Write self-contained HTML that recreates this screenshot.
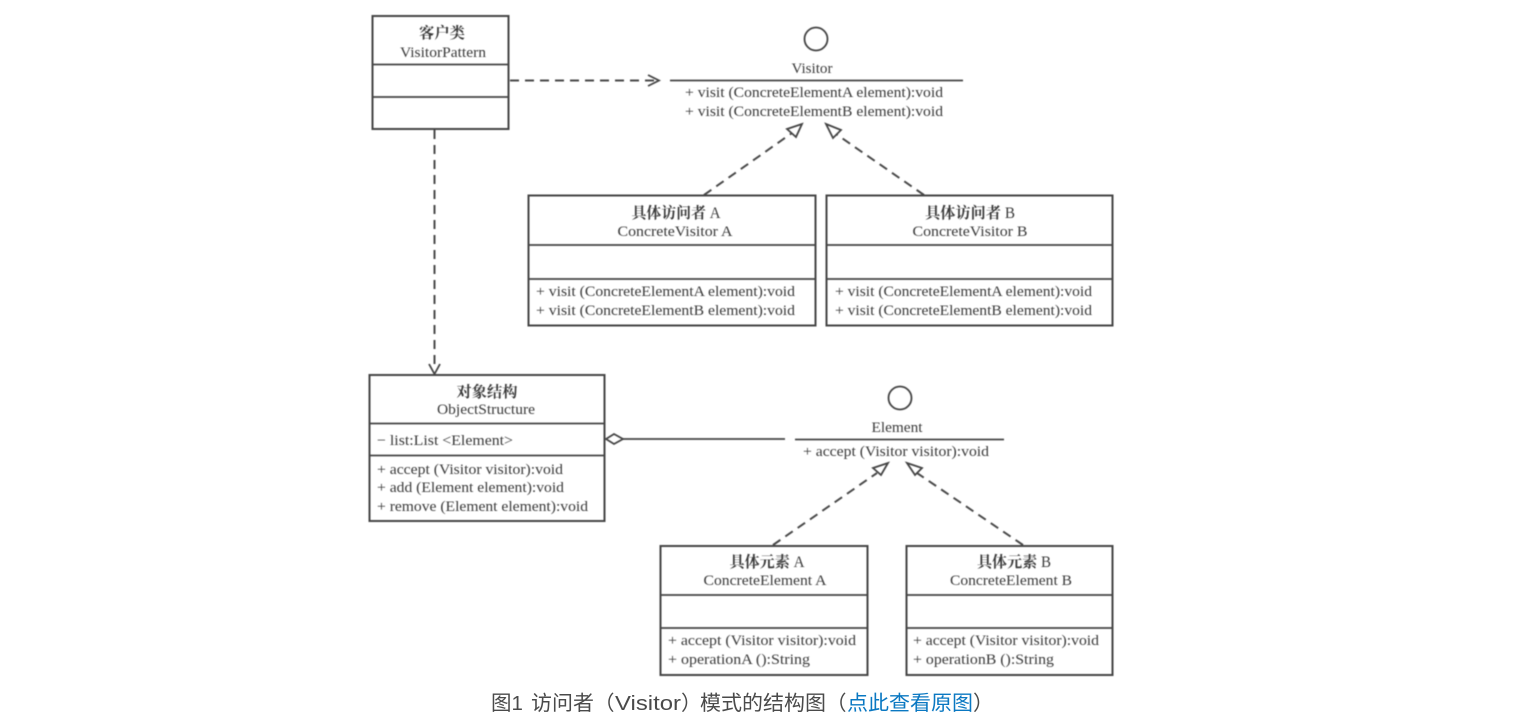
<!DOCTYPE html>
<html><head><meta charset="utf-8"><style>
html,body{margin:0;padding:0;background:#fff;width:1531px;height:724px;overflow:hidden}
svg{display:block}
.d text{font-family:"Liberation Serif","Noto Serif CJK SC",serif;font-size:15px;fill:#3a3a3a}
.d text.t{font-weight:bold;font-size:15.300px}
.d text.t tspan{font-weight:normal}
.c{text-anchor:middle}
.b{fill:none;stroke:#444;stroke-width:2}
.l{fill:none;stroke:#444;stroke-width:1.800}
.da{fill:none;stroke:#4a4a4a;stroke-width:2;stroke-dasharray:9 6}
.cap{font-family:"Liberation Sans","Noto Sans CJK SC",sans-serif;font-size:20.5px;fill:#4a4a4a}
</style></head><body>
<svg width="1531" height="724" viewBox="0 0 1531 724" xmlns="http://www.w3.org/2000/svg">
<defs><filter id="s" filterUnits="userSpaceOnUse" x="0" y="0" width="1531" height="680"><feGaussianBlur stdDeviation="0.45"/></filter></defs>
<g class="d" filter="url(#s)">
<!-- VisitorPattern -->
<rect class="b" x="372.500" y="16" width="136" height="113"/>
<path class="l" d="M372 64.500H509M372 97H509"/>
<text class="t c" x="442" y="38" textLength="46" lengthAdjust="spacingAndGlyphs">客户类</text>
<text class="c" x="443" y="57" textLength="86" lengthAdjust="spacingAndGlyphs">VisitorPattern</text>
<!-- dependency to Visitor -->
<path class="da" d="M510 80.500H656"/>
<path class="l" d="M648 75L659 80.500L648 86"/>
<path class="da" d="M434.500 130V370"/>
<path class="l" d="M429 364L434.500 374L440 364"/>
<!-- Visitor interface -->
<circle class="l" cx="816" cy="39" r="11.500"/>
<text class="c" x="812" y="73" textLength="41" lengthAdjust="spacingAndGlyphs">Visitor</text>
<path class="l" d="M670 80.500H963"/>
<text x="685" y="97" textLength="258" lengthAdjust="spacingAndGlyphs">+ visit (ConcreteElementA element):void</text>
<text x="685" y="116" textLength="258" lengthAdjust="spacingAndGlyphs">+ visit (ConcreteElementB element):void</text>
<!-- realization arrows -->
<path class="da" d="M704 195L792 133"/>
<path class="l" d="M802 124L787 129L796 137Z"/>
<path class="da" d="M924 195L836 134"/>
<path class="l" d="M826 124L841 130L833 138Z"/>
<!-- ConcreteVisitor A -->
<rect class="b" x="528.500" y="195.500" width="287" height="130"/>
<path class="l" d="M528 245H816M528 279H816"/>
<text class="t c" x="676" y="218" textLength="89" lengthAdjust="spacingAndGlyphs">具体访问者<tspan> A</tspan></text>
<text class="c" x="675" y="236" textLength="115" lengthAdjust="spacingAndGlyphs">ConcreteVisitor A</text>
<text x="536" y="296" textLength="259" lengthAdjust="spacingAndGlyphs">+ visit (ConcreteElementA element):void</text>
<text x="536" y="315" textLength="259" lengthAdjust="spacingAndGlyphs">+ visit (ConcreteElementB element):void</text>
<!-- ConcreteVisitor B -->
<rect class="b" x="826.500" y="195.500" width="286" height="130"/>
<path class="l" d="M826 245H1113M826 279H1113"/>
<text class="t c" x="970" y="218" textLength="90" lengthAdjust="spacingAndGlyphs">具体访问者<tspan> B</tspan></text>
<text class="c" x="970" y="236" textLength="115" lengthAdjust="spacingAndGlyphs">ConcreteVisitor B</text>
<text x="835" y="296" textLength="257" lengthAdjust="spacingAndGlyphs">+ visit (ConcreteElementA element):void</text>
<text x="835" y="315" textLength="257" lengthAdjust="spacingAndGlyphs">+ visit (ConcreteElementB element):void</text>
<!-- ObjectStructure -->
<rect class="b" x="369.500" y="375" width="235" height="146"/>
<path class="l" d="M369 423.500H605M369 455.500H605"/>
<text class="t c" x="487" y="397" textLength="61" lengthAdjust="spacingAndGlyphs">对象结构</text>
<text class="c" x="486" y="414" textLength="98" lengthAdjust="spacingAndGlyphs">ObjectStructure</text>
<text x="377" y="445" textLength="136" lengthAdjust="spacingAndGlyphs">− list:List &lt;Element&gt;</text>
<text x="377" y="474" textLength="186" lengthAdjust="spacingAndGlyphs">+ accept (Visitor visitor):void</text>
<text x="377" y="492" textLength="187" lengthAdjust="spacingAndGlyphs">+ add (Element element):void</text>
<text x="377" y="511" textLength="211" lengthAdjust="spacingAndGlyphs">+ remove (Element element):void</text>
<!-- aggregation -->
<path class="l" d="M606 439L614 434L623 439L614 444Z"/>
<path class="l" d="M623 439H785"/>
<!-- Element -->
<circle class="l" cx="900" cy="398" r="11.500"/>
<text class="c" x="897" y="432" textLength="51" lengthAdjust="spacingAndGlyphs">Element</text>
<path class="l" d="M795 439.500H1004"/>
<text x="803" y="456" textLength="186" lengthAdjust="spacingAndGlyphs">+ accept (Visitor visitor):void</text>
<path class="da" d="M773 545L877 473"/>
<path class="l" d="M888 463L873 468L881 475Z"/>
<path class="da" d="M1023 545L917 473"/>
<path class="l" d="M907 463L922 468L915 475Z"/>
<!-- ConcreteElement A -->
<rect class="b" x="660.500" y="546" width="207" height="129"/>
<path class="l" d="M660 595H868M660 628H868"/>
<text class="t c" x="767" y="567" textLength="75" lengthAdjust="spacingAndGlyphs">具体元素<tspan> A</tspan></text>
<text class="c" x="765" y="585" textLength="123" lengthAdjust="spacingAndGlyphs">ConcreteElement A</text>
<text x="668" y="645" textLength="188" lengthAdjust="spacingAndGlyphs">+ accept (Visitor visitor):void</text>
<text x="668" y="664" textLength="142" lengthAdjust="spacingAndGlyphs">+ operationA ():String</text>
<!-- ConcreteElement B -->
<rect class="b" x="906.500" y="546" width="206" height="129"/>
<path class="l" d="M906 595H1113M906 628H1113"/>
<text class="t c" x="1014" y="567" textLength="74" lengthAdjust="spacingAndGlyphs">具体元素<tspan> B</tspan></text>
<text class="c" x="1011" y="585" textLength="122" lengthAdjust="spacingAndGlyphs">ConcreteElement B</text>
<text x="913" y="645" textLength="186" lengthAdjust="spacingAndGlyphs">+ accept (Visitor visitor):void</text>
<text x="913" y="664" textLength="141" lengthAdjust="spacingAndGlyphs">+ operationB ():String</text>
</g>
<!-- caption -->
<text class="cap" x="491" y="710">图1</text>
<text class="cap" x="531" y="710" textLength="63" lengthAdjust="spacingAndGlyphs">访问者</text>
<text class="cap" x="594" y="710">（</text>
<text class="cap" x="615" y="710" textLength="66" lengthAdjust="spacingAndGlyphs">Visitor</text>
<text class="cap" x="681" y="710">）</text>
<text class="cap" x="700" y="710" textLength="126" lengthAdjust="spacingAndGlyphs">模式的结构图</text>
<text class="cap" x="826" y="710">（</text>
<text class="cap" x="847" y="710" textLength="126" lengthAdjust="spacingAndGlyphs" style="fill:#0a78c2">点此查看原图</text>
<text class="cap" x="973" y="710">）</text>
</svg>
</body></html>
